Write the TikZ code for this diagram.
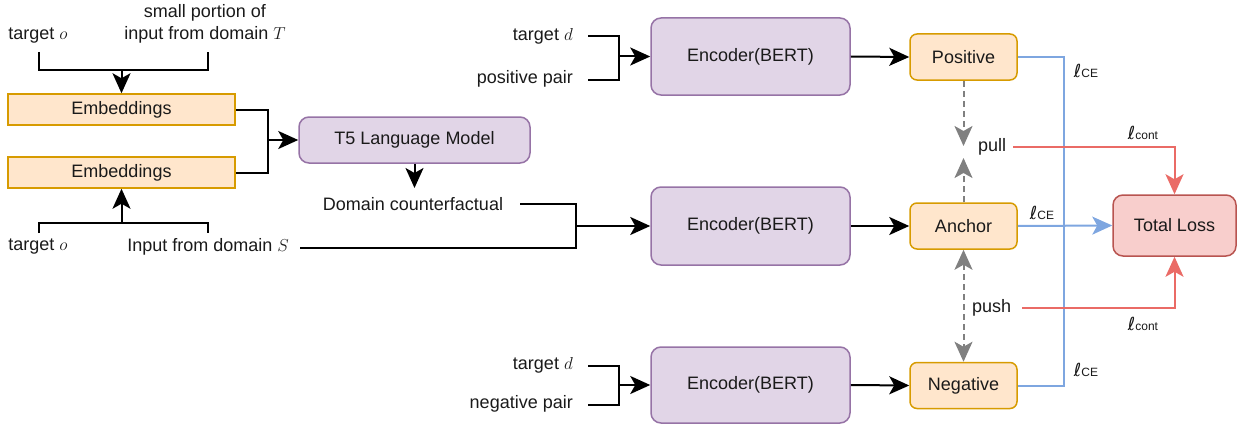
\documentclass[tikz,border=0pt]{standalone}
\usepackage{fontspec}
\setmainfont{Liberation Sans}
\newfontfamily\dejavu{DejaVu Sans}
\usetikzlibrary{arrows.meta}
\definecolor{embfill}{HTML}{FFE6CC}
\definecolor{embdraw}{HTML}{D79B00}
\definecolor{purfill}{HTML}{E1D5E7}
\definecolor{purdraw}{HTML}{9673A6}
\definecolor{lossfill}{HTML}{F8CECC}
\definecolor{lossdraw}{HTML}{B85450}
\definecolor{blueln}{HTML}{7EA6E0}
\definecolor{redln}{HTML}{EA6B66}
\definecolor{grayln}{HTML}{808080}
\definecolor{txt}{HTML}{1A1A1A}
\newcommand{\lce}{{\dejavu ℓ}{\fontsize{12}{12}\selectfont CE}}
\newcommand{\lcont}{{\dejavu ℓ}{\fontsize{12}{12}\selectfont cont}}
\begin{document}
\begin{tikzpicture}[x=1pt,y=-1pt,
  font=\fontsize{18}{22}\selectfont,
  >={Stealth[length=20pt,width=18pt,inset=5pt]},
  embbox/.style={draw=embdraw, fill=embfill, line width=1.5pt, minimum width=227pt, minimum height=31pt, inner sep=0, text=txt},
  purbox/.style={draw=purdraw, fill=purfill, line width=1.5pt, rounded corners=10pt, inner sep=0, text=txt},
  outbox/.style={draw=embdraw, fill=embfill, line width=1.5pt, rounded corners=7pt, minimum width=107pt, minimum height=46pt, inner sep=0, text=txt},
  lossbox/.style={draw=lossdraw, fill=lossfill, line width=1.5pt, rounded corners=10pt, minimum width=123pt, minimum height=61pt, inner sep=0, text=txt},
  lbl/.style={inner sep=0, text=txt},
  ln/.style={line width=2pt, draw=black},
  arr/.style={ln, ->},
  bln/.style={line width=2pt, draw=blueln},
  barr/.style={bln, ->},
  rarr/.style={line width=2pt, draw=redln, ->},
  gdash/.style={line width=2pt, draw=grayln, dash pattern=on 6pt off 4pt},
]
\useasboundingbox (0,0) rectangle (1242,428);

% ---- left part ----
\node[lbl] (tgtO1) at (38,36) {target $o$};
\node[lbl, align=center] (small) at (205,24) {small portion of\\input from domain $T$};
\node[embbox] (emb1) at (121.5,109.5) {Embeddings};
\node[embbox] (emb2) at (121.5,172.5) {Embeddings};
\node[lbl] (tgtO2) at (38,247) {target $o$};
\node[lbl] (inputS) at (208,247) {Input from domain $S$};
\node[purbox, minimum width=231pt, minimum height=46pt] (t5) at (414.5,140) {T5 Language Model};
\node[lbl] (domcf) at (413,204) {Domain counterfactual};

\coordinate (a1) at (39,52);
\coordinate (a2) at (208,52);
\coordinate (ja) at (121.5,70);
\draw[ln] (a1) -- ++(0,18) -| (a2);
\draw[arr] (ja) -- (emb1.north);

\coordinate (b1) at (39,233);
\coordinate (b2) at (208,233);
\coordinate (jb) at (121.5,223);
\draw[ln] (b1) -- ++(0,-10) -| (b2);
\draw[arr] (jb) -- (emb2.south);

\coordinate (jt) at (268,140);
\draw[ln] (emb1.east) -| (jt);
\draw[ln] (emb2.east) -| (jt);
\draw[arr] (jt) -- (t5.west);

\coordinate (dtop) at (414.5,188);
\draw[arr] (t5.south) -- (dtop);

% ---- encoders ----
\node[purbox, minimum width=199pt, minimum height=77pt] (enc1) at (750.5,56.5) {Encoder(BERT)};
\node[purbox, minimum width=199pt, minimum height=78pt] (enc2) at (750.5,226) {Encoder(BERT)};
\node[purbox, minimum width=199pt, minimum height=76pt] (enc3) at (750.5,385) {Encoder(BERT)};

\coordinate (c1) at (520,204);
\coordinate (c2) at (300,248);
\coordinate (jc) at (576,226);
\draw[ln] (c1) -| (jc);
\draw[ln] (c2) -| (jc);
\draw[arr] (jc) -- (enc2.west);

\node[lbl, anchor=east] (tgtd1) at (573,36) {target $d$};
\node[lbl, anchor=east] (pospair) at (573,79) {positive pair};
\node[lbl, anchor=east] (tgtd3) at (573,365) {target $d$};
\node[lbl, anchor=east] (negpair) at (573,404) {negative pair};

\coordinate (d1) at (588,36);
\coordinate (d2) at (588,80);
\coordinate (jd) at (619,56.5);
\draw[ln] (d1) -| (jd);
\draw[ln] (d2) -| (jd);
\draw[arr] (jd) -- (enc1.west);

\coordinate (e1) at (588,366);
\coordinate (e2) at (588,405);
\coordinate (je) at (619,385);
\draw[ln] (e1) -| (je);
\draw[ln] (e2) -| (je);
\draw[arr] (je) -- (enc3.west);

% ---- outputs ----
\node[outbox] (pos) at (963.5,57) {Positive};
\node[outbox] (anc) at (963.5,226) {Anchor};
\node[outbox] (neg) at (963.5,385.5) {Negative};
\node[lossbox] (tot) at (1174.5,225.5) {Total Loss};

\draw[arr] (enc1.east) -- (pos.west);
\draw[arr] (enc2.east) -- (anc.west);
\draw[arr] (enc3.east) -- (neg.west);

% blue CE lines
\coordinate (bt) at (1064,57);
\coordinate (bb) at (1064,385.5);
\draw[bln] (pos.east) -- (bt) -- (bb) -- (neg.east);
\draw[barr] (anc.east) -- (tot.west);

\node[lbl] (lce1) at (1086,71) {\lce};
\node[lbl] (lce2) at (1042,213) {\lce};
\node[lbl] (lce3) at (1086,370) {\lce};

% pull / push
\node[lbl, anchor=west] (pull) at (978,147) {pull};
\node[lbl, anchor=west] (push) at (972,308) {push};
\coordinate (pu1) at (963.5,146);
\coordinate (pu2) at (963.5,158);
\draw[gdash, ->] (pos.south) -- (pu1);
\draw[gdash, ->] (anc.north) -- (pu2);
\draw[gdash, <->] (anc.south) -- (neg.north);

\coordinate (rp) at (1013,147);
\coordinate (rq) at (1022,308);
\draw[rarr] (rp) -| (tot.north);
\draw[rarr] (rq) -| (tot.south);
\node[lbl] (lc1) at (1143,133) {\lcont};
\node[lbl] (lc2) at (1143,324) {\lcont};
\end{tikzpicture}
\end{document}
